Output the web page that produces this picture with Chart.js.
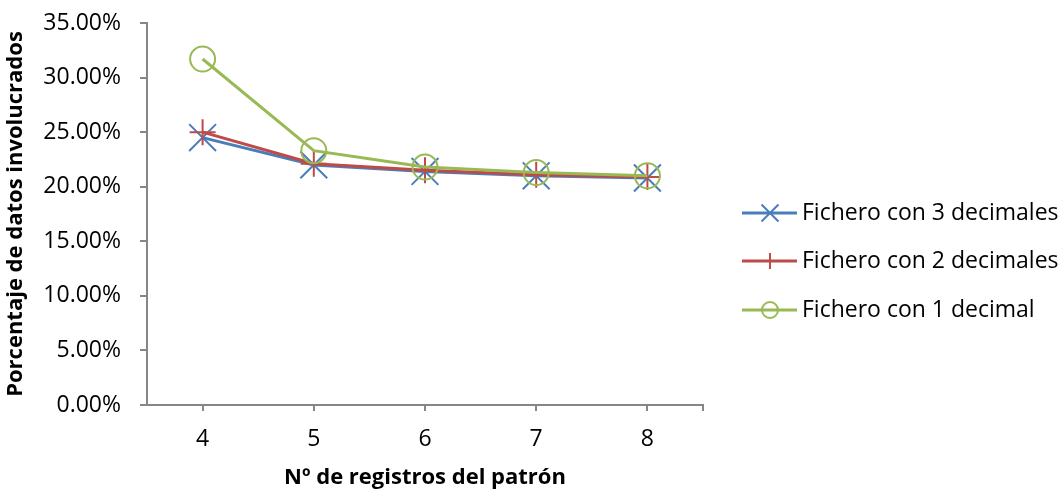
<!DOCTYPE html>
<html>
<head>
<meta charset="utf-8">
<script src="https://cdn.jsdelivr.net/npm/chart.js@4.4.0/dist/chart.umd.min.js"></script>
<style>
  html, body { margin: 0; padding: 0; background: #fff; }
</style>
</head>
<body>
<canvas id="chart" width="1063" height="491"></canvas>
<script>
// datos del gráfico
const registros = ['4', '5', '6', '7', '8'];
const tresDecimales = [24.5, 22.0, 21.4, 21.0, 20.8];
const dosDecimales = [25.0, 22.1, 21.5, 21.1, 20.9];
const unDecimal = [31.7, 23.3, 21.8, 21.3, 21.0];
const nombres = ['Fichero con 3 decimales', 'Fichero con 2 decimales', 'Fichero con 1 decimal'];
const ticksY = [0, 5, 10, 15, 20, 25, 30, 35];

const fuente = '"Open Sans", "Liberation Sans", sans-serif';
const gris = '#868686';

// leyenda a la derecha: línea con el marcador en medio
const leyenda = {
  id: 'leyenda',
  afterDraw(chart) {
    const ctx = chart.ctx;
    const filas = [213, 261, 310];
    chart.data.datasets.forEach((ds, i) => {
      const y = filas[i];
      ctx.save();
      ctx.strokeStyle = ds.borderColor;
      ctx.lineWidth = 3;
      ctx.beginPath();
      ctx.moveTo(742, y);
      ctx.lineTo(797, y);
      ctx.stroke();
      ctx.lineWidth = 2;
      ctx.fillStyle = 'rgba(0,0,0,0)';
      Chart.helpers.drawPoint(ctx, {
        pointStyle: ds.pointStyle, radius: ds.radioLeyenda, borderWidth: 2, rotation: 0
      }, 770, y);
      ctx.fillStyle = '#000';
      ctx.font = '23px ' + fuente;
      ctx.textBaseline = 'middle';
      ctx.textAlign = 'left';
      ctx.fillText(ds.label, 802, y);
      ctx.restore();
    });
    // marca final del eje X
    const a = chart.chartArea;
    ctx.save();
    ctx.strokeStyle = gris;
    ctx.lineWidth = 2;
    ctx.beginPath();
    ctx.moveTo(a.right, a.bottom);
    ctx.lineTo(a.right, a.bottom + 6);
    ctx.stroke();
    ctx.restore();
  }
};

const data = {
  labels: registros,
  datasets: [
    {
      label: nombres[0], data: tresDecimales,
      borderColor: '#4A7EBB', backgroundColor: 'rgba(0,0,0,0)',
      pointStyle: 'crossRot', pointRadius: 19, pointBorderWidth: 2,
      radioLeyenda: 12, order: 3
    },
    {
      label: nombres[1], data: dosDecimales,
      borderColor: '#BE4B48', backgroundColor: 'rgba(0,0,0,0)',
      pointStyle: 'cross', pointRadius: 13, pointBorderWidth: 2,
      radioLeyenda: 8, order: 2
    },
    {
      label: nombres[2], data: unDecimal,
      borderColor: '#98B954', backgroundColor: 'rgba(0,0,0,0)',
      pointStyle: 'circle', pointRadius: 12.5, pointBorderWidth: 2,
      radioLeyenda: 8, order: 1
    }
  ]
};

const config = {
  type: 'line',
  data: data,
  options: {
    responsive: false,
    animation: false,
    devicePixelRatio: 1,
    layout: { padding: { top: 23, right: 360, left: 0, bottom: 0 } },
    elements: {
      line: { borderWidth: 3, tension: 0 },
      point: { hoverRadius: 0 }
    },
    datasets: { line: { clip: false } },
    plugins: {
      legend: { display: false },
      tooltip: { enabled: false }
    },
    scales: {
      x: {
        offset: true,
        grid: { drawOnChartArea: false, drawTicks: true, tickLength: 6, color: gris, lineWidth: 2, offset: false },
        border: { color: gris, width: 2 },
        ticks: { color: '#000', font: { family: fuente, size: 23 }, padding: 15 },
        title: { display: true, text: 'Nº de registros del patrón', color: '#000', font: { family: fuente, size: 22, weight: 'bold' }, padding: { top: 0, bottom: 0 } },
        afterFit(scale) { scale.height = 86; }
      },
      y: {
        min: 0, max: 35,
        afterBuildTicks(scale) { scale.ticks = ticksY.map(v => ({ value: v })); },
        grid: { drawOnChartArea: false, drawTicks: true, tickLength: 7, color: gris, lineWidth: 2 },
        border: { color: gris, width: 2 },
        ticks: { color: '#000', font: { family: fuente, size: 23 }, padding: 19, callback: v => v.toFixed(2) + '%' },
        title: { display: true, text: 'Porcentaje de datos involucrados', color: '#000', font: { family: fuente, size: 22, weight: 'bold' }, padding: { top: 3, bottom: 0 } },
        afterFit(scale) {
          scale.width = 147;
          scale.paddingTop = 0;
          scale.paddingBottom = 0;
        }
      }
    }
  },
  plugins: [leyenda]
};

new Chart(document.getElementById('chart'), config);
</script>
</body>
</html>
